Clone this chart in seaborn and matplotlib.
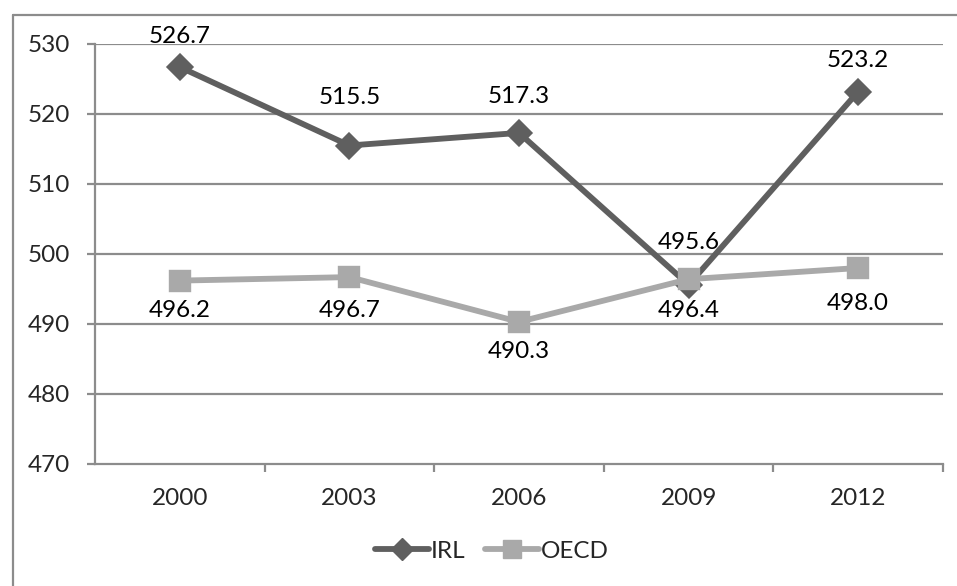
import matplotlib
matplotlib.use("Agg")
import matplotlib.pyplot as plt
import seaborn as sns
import pandas as pd
from matplotlib.lines import Line2D

years = ["2000", "2003", "2006", "2009", "2012"]
irl = [526.7, 515.5, 517.3, 495.6, 523.2]
oecd = [496.2, 496.7, 490.3, 496.4, 498.0]
series_names = ["IRL", "OECD"]
y_ticks = [470, 480, 490, 500, 510, 520, 530]

# label offsets in pixels (positive = up)
irl_off = [31, 48, 36, 42, 31]
oecd_off = [-30, -33, -30, -31, -35]

df = pd.DataFrame({
    "year": years * 2,
    "score": irl + oecd,
    "series": [series_names[0]] * len(years) + [series_names[1]] * len(years),
})

sns.set_style("white")
plt.rcParams["font.family"] = ["Lato", "DejaVu Sans"]
FS = 17.5

W, H = 957, 586
fig = plt.figure(figsize=(W / 100, H / 100), dpi=100)
ax = fig.add_axes([95 / W, 1 - 464 / H, (943 - 95) / W, (464 - 44) / H])

colors = {"IRL": "#5f5f5f", "OECD": "#a9a9a9"}
sns.pointplot(data=df, x="year", y="score", hue="series", order=years,
              hue_order=series_names, palette=colors, markers=["D", "s"],
              linestyles=["-", "-"], errorbar=None, ax=ax,
              markersize=12, linewidth=4.2, legend=False)
for ln in ax.lines:
    if ln.get_marker() == "s":
        ln.set_markersize(13.5)
    elif ln.get_marker() == "D":
        ln.set_markersize(11)

ax.set_xlim(-0.5, len(years) - 0.5)
ax.set_ylim(y_ticks[0], y_ticks[-1])
ax.set_yticks(y_ticks)
ax.set_xlabel("")
ax.set_ylabel("")

grid_c = "#8c8c8c"
for yt in y_ticks[1:]:
    ax.axhline(yt, color=grid_c, lw=1.6, zorder=0)
for s in ["top", "right"]:
    ax.spines[s].set_visible(False)
for s in ["left", "bottom"]:
    ax.spines[s].set_color(grid_c)
    ax.spines[s].set_linewidth(1.6)

ax.tick_params(axis="y", which="major", length=6, width=1.6, color=grid_c,
               labelsize=FS, pad=12, left=True)
ax.tick_params(axis="x", which="major", length=0, labelsize=FS, pad=17)
ax.set_xticks([i - 0.5 for i in range(1, len(years) + 1)], minor=True)
ax.tick_params(axis="x", which="minor", length=6, width=1.6, color=grid_c, bottom=True)

for i, (v, o) in enumerate(zip(irl, irl_off)):
    ax.annotate(f"{v:.1f}", (i, v), xytext=(0, o * 0.72), textcoords="offset points",
                ha="center", va="center", fontsize=FS, color="black")
for i, (v, o) in enumerate(zip(oecd, oecd_off)):
    ax.annotate(f"{v:.1f}", (i, v), xytext=(0, o * 0.72), textcoords="offset points",
                ha="center", va="center", fontsize=FS, color="black")

handles = [
    Line2D([], [], color=colors["IRL"], lw=4.2, marker="D", markersize=11),
    Line2D([], [], color=colors["OECD"], lw=4.2, marker="s", markersize=13.5),
]
fig.legend(handles, series_names, loc="center", bbox_to_anchor=(492 / W, 1 - 551 / H),
           ncol=2, frameon=False, fontsize=FS, handlelength=2.2, handletextpad=0.1,
           columnspacing=0.8)

border_c = "#8c8c8c"
fig.add_artist(Line2D([13 / W, 1.0], [1 - 15 / H, 1 - 15 / H], color=border_c, lw=1.6,
                      transform=fig.transFigure))
fig.add_artist(Line2D([13 / W, 13 / W], [1 - 15 / H, 0.0], color=border_c, lw=1.6,
                      transform=fig.transFigure))

fig.savefig("out.png", dpi=100)
